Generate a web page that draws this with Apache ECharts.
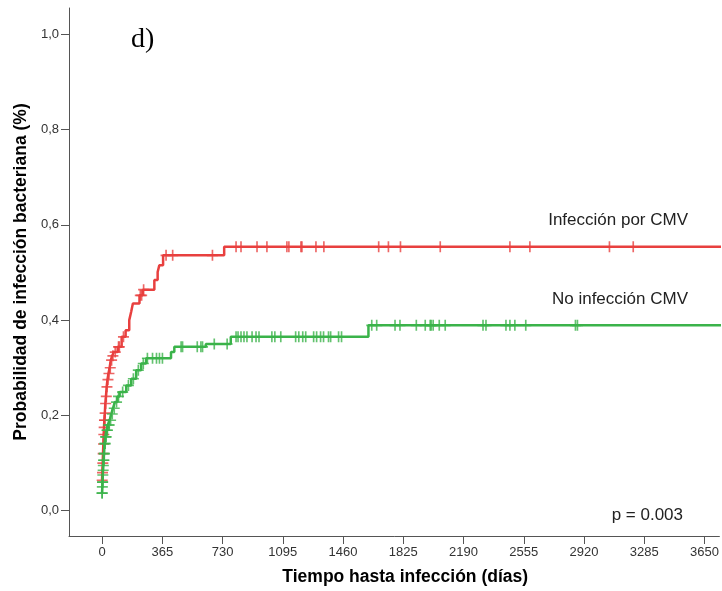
<!DOCTYPE html>
<html><head><meta charset="utf-8">
<script src="https://cdn.jsdelivr.net/npm/echarts@6/dist/echarts.min.js"></script>
<style>html,body{margin:0;padding:0;background:#fff}#c{width:722px;height:591px}</style>
</head><body><div id="c"></div>
<script>
// ---- data ----
const xTickValues = [0, 365, 730, 1095, 1460, 1825, 2190, 2555, 2920, 3285, 3650];
const yTickValues = [0, 0.2, 0.4, 0.6, 0.8, 1.0];
const seriesNames = ['Infección por CMV', 'No infección CMV'];

// cumulative probability steps: [day, probability]
const cmvSteps = [
  [0, 0.064], [2, 0.08], [4, 0.10], [6, 0.12], [8, 0.14], [10, 0.16], [12, 0.175], [14, 0.19],
  [17, 0.205], [20, 0.225], [24, 0.24], [28, 0.26], [33, 0.275], [39, 0.288], [46, 0.30],
  [53, 0.316], [62, 0.325], [71, 0.333], [95, 0.344], [119, 0.365], [143, 0.379], [165, 0.40],
  [177, 0.418], [187, 0.435], [227, 0.452], [247, 0.464], [317, 0.484], [337, 0.501],
  [347, 0.515], [370, 0.536], [740, 0.554], [3850, 0.554]
];
const noCmvSteps = [
  [0, 0.037], [2, 0.05], [3, 0.06], [5, 0.075], [6, 0.085], [8, 0.095], [9, 0.106], [12, 0.12],
  [15, 0.141], [20, 0.155], [27, 0.169], [35, 0.18], [46, 0.19], [56, 0.203], [66, 0.215],
  [78, 0.228], [93, 0.24], [107, 0.249], [147, 0.263], [177, 0.277], [207, 0.295], [237, 0.309],
  [267, 0.32], [418, 0.333], [438, 0.344], [629, 0.35], [780, 0.365], [1614, 0.389], [3850, 0.389]
];
// censored times (days)
const cmvCensored = [
  1, 3, 5, 7, 9, 11, 13, 15, 16, 19, 22, 26, 30, 36, 42, 50, 58, 66, 80, 100, 105, 130, 232, 240, 252,
  388, 428, 669, 812, 842, 939, 999, 1120, 1132, 1205, 1211, 1296, 1344, 1676, 1735, 1808, 2049,
  2471, 2592, 3074, 3218
];
const noCmvCensored = [
  0.5, 1, 2, 3, 4, 5, 7, 8, 10, 11, 13, 14, 17, 19, 22, 25, 30, 33, 40, 44, 52, 62, 74, 88, 100,
  125, 160, 190, 220, 250, 275, 306, 330, 348, 366, 479, 488, 577, 599, 609, 680, 758,
  812, 824, 842, 860, 878, 909, 933, 951, 1029, 1047, 1083, 1173, 1192, 1216, 1234, 1282, 1300,
  1324, 1342, 1372, 1385, 1433, 1451, 1634, 1664, 1775, 1805, 1904, 1958, 1988, 1994, 2006, 2043,
  2079, 2308, 2326, 2447, 2471, 2501, 2567, 2868, 2880
];
const pValueText = 'p = 0.003';

// ---- build ----
function stepValue(steps, t) {
  let v = steps[0][1];
  for (const s of steps) { if (s[0] <= t) v = s[1]; else break; }
  return v;
}
const RED = '#e8403f', GREEN = '#3bb34a';
const PLUS = 'path://M8.5,0H11.5V8.5H20V11.5H11.5V20H8.5V11.5H0V8.5H8.5Z';
const FONT = '"Liberation Sans", Arial, sans-serif';

const chart = echarts.init(document.getElementById('c'), null, {renderer: 'canvas'});
chart.setOption({
  animation: false,
  backgroundColor: '#fff',
  grid: {left: 69, right: 0, top: 8, bottom: 55, containLabel: false},
  xAxis: {
    type: 'value', min: -200, max: 3740,
    name: 'Tiempo hasta infección (días)', nameLocation: 'middle', nameGap: 32,
    nameTextStyle: {fontFamily: FONT, fontWeight: 'bold', fontSize: 17.5, color: '#000', padding: [0, 0, 0, 22]},
    axisLine: {onZero: false, lineStyle: {color: '#555', width: 1}},
    axisTick: {show: true, length: 8, customValues: xTickValues, lineStyle: {color: '#555'}},
    axisLabel: {customValues: xTickValues, margin: 10, fontFamily: FONT, fontSize: 13, color: '#333',
      formatter: v => String(Math.round(v))},
    splitLine: {show: false}
  },
  yAxis: {
    type: 'value', min: -0.053, max: 1.055,
    name: 'Probabilidad de infección bacteriana (%)', nameLocation: 'middle', nameGap: 30,
    nameTextStyle: {fontFamily: FONT, fontWeight: 'bold', fontSize: 17.5, color: '#000'},
    axisLine: {show: true, onZero: false, lineStyle: {color: '#555', width: 1}},
    axisTick: {show: true, length: 8, customValues: yTickValues, lineStyle: {color: '#555'}},
    axisLabel: {customValues: yTickValues, margin: 10, fontFamily: FONT, fontSize: 13, color: '#333',
      formatter: v => v.toFixed(1).replace('.', ',')},
    splitLine: {show: false}
  },
  series: [
    {name: seriesNames[0], type: 'line', step: 'end', data: cmvSteps, showSymbol: false,
      lineStyle: {color: RED, width: 2.5}, itemStyle: {color: RED}, silent: true, z: 2},
    {name: seriesNames[0] + ' censurado', type: 'scatter', symbol: PLUS, symbolSize: [11, 11],
      data: cmvCensored.map(t => [t, stepValue(cmvSteps, t)]), itemStyle: {color: RED}, silent: true, z: 2},
    {name: seriesNames[1], type: 'line', step: 'end', data: noCmvSteps, showSymbol: false,
      lineStyle: {color: GREEN, width: 2.5}, itemStyle: {color: GREEN}, silent: true, z: 3},
    {name: seriesNames[1] + ' censurado', type: 'scatter', symbol: PLUS, symbolSize: [11, 11],
      data: noCmvCensored.map(t => [t, stepValue(noCmvSteps, t)]), itemStyle: {color: GREEN}, silent: true, z: 3}
  ],
  graphic: [
    {type: 'text', left: 131, top: 26, style: {text: 'd)', font: '28px "Liberation Serif", "Times New Roman", serif', fill: '#000'}},
    {type: 'text', right: 34, top: 212, style: {text: seriesNames[0], font: '17px ' + FONT, fill: '#222'}},
    {type: 'text', right: 34, top: 291, style: {text: seriesNames[1], font: '17px ' + FONT, fill: '#222'}},
    {type: 'text', right: 39, top: 507, style: {text: pValueText, font: '17px ' + FONT, fill: '#222'}}
  ]
});
</script>
</body></html>
